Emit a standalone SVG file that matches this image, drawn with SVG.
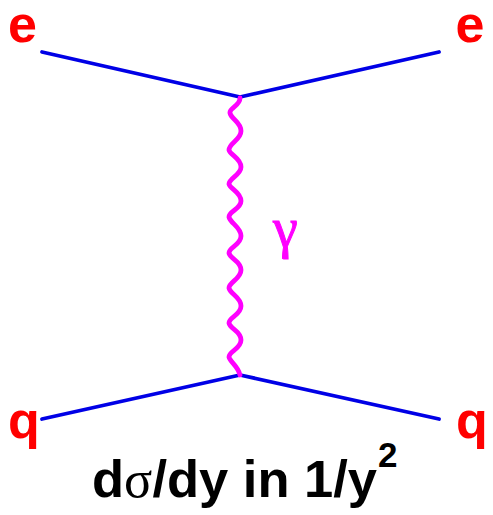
<svg xmlns="http://www.w3.org/2000/svg" width="493" height="515" viewBox="0 0 493 515">
<style>
.f{fill:none;stroke:#0000e6;stroke-width:3.8;stroke-linecap:round}
.b{fill:none;stroke:#ff00ff;stroke-width:4.8;stroke-linecap:round;stroke-linejoin:round}
.l{font-family:"Liberation Sans",Arial,sans-serif;font-weight:700;font-size:52px;fill:#ff0000}
.t{font-family:"Liberation Sans",Arial,sans-serif;font-weight:700;font-size:52.5px;fill:#000}
</style>
<rect width="493" height="515" fill="#fff"/>
<g id="connectors">
<path class="f" d="M42 52L240 97"/>
<path class="f" d="M240 97L439 52"/>
<path class="f" d="M42 419L240 375"/>
<path class="f" d="M240 375L439 419"/>
<path class="b" d="M240 98C240 106 229 108 230 113C231 119 241 122 241 131C241 140 229 143 229 150C230 155 241 158 241 167C241 175 229 178 229 184C230 189 241 192 241 201C241 209 229 211 229 217C230 223 241 227 241 236C241 245 229 247 229 253C230 259 241 261 241 270C241 279 229 282 229 288C230 294 241 297 241 306C241 315 229 317 229 323C230 329 241 331 241 340C241 349 229 351 229 357C230 362 238 366 240 375"/>
</g>
<g id="e-in"><text class="l" x="8" y="42">e</text></g>
<g id="e-out"><text class="l" x="455.5" y="42">e</text></g>
<g id="q-in"><text class="l" x="8" y="438">q</text></g>
<g id="q-out"><text class="l" x="456" y="438">q</text></g>
<g id="gamma"><text x="273" y="247" style="font-family:'Liberation Serif','DejaVu Serif',serif;font-size:56px;fill:#ff00ff;stroke:#ff00ff;stroke-width:1">γ</text></g>
<g id="caption"><text class="t" x="92" y="497">d<tspan style="font-family:'Liberation Serif',serif;font-weight:400">σ</tspan>/dy in 1/y<tspan font-size="35" dy="-30" dx="1">2</tspan></text></g>
</svg>
